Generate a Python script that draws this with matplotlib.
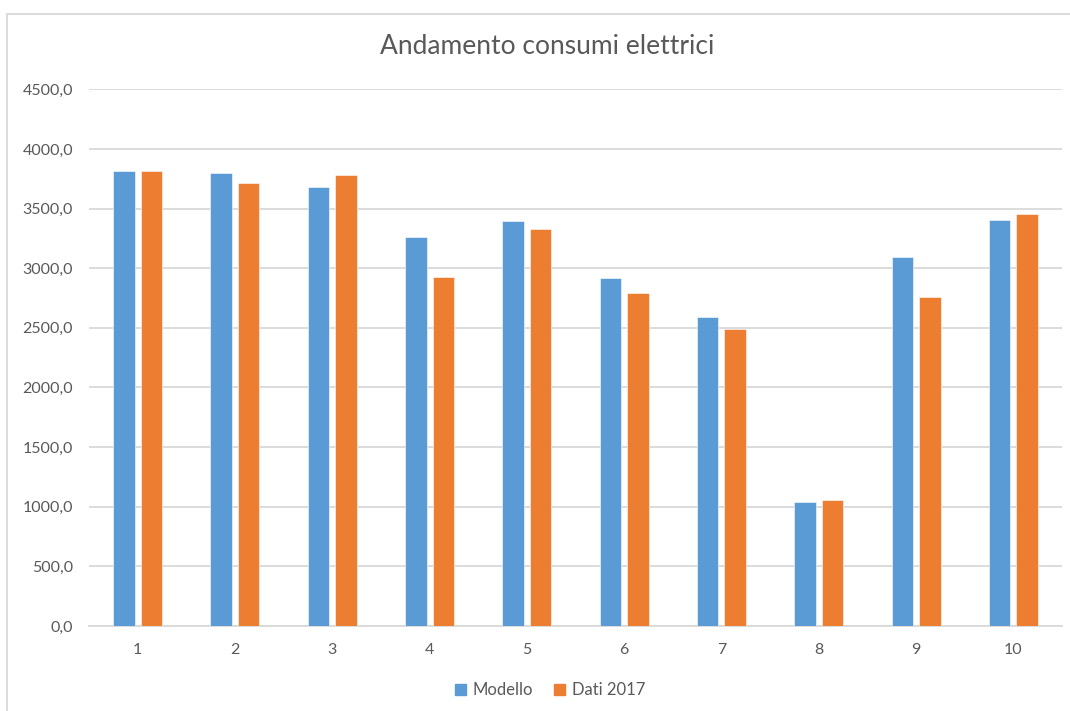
import matplotlib
matplotlib.use("Agg")
import matplotlib.pyplot as plt
import matplotlib.patches as mpatches
from matplotlib.ticker import FuncFormatter, MultipleLocator
import numpy as np

plt.rcParams['font.family'] = ['Lato', 'DejaVu Sans']

mesi = ['1', '2', '3', '4', '5', '6', '7', '8', '9', '10']
modello = [3818, 3801, 3678, 3262, 3393, 2916, 2587, 1039, 3095, 3408]
dati_2017 = [3818, 3717, 3779, 2925, 3326, 2790, 2489, 1056, 2760, 3458]

BLU = '#5B9BD5'
ARANCIO = '#ED7D31'
GRIGIO = '#D9D9D9'
TESTO = '#595959'

fig = plt.figure(figsize=(10.70, 7.11), dpi=100)
ax = fig.add_axes([0.0832, 0.1195, 0.9093, 0.7549])

x = np.arange(len(mesi))
w = 0.221
off = 0.1415
ax.bar(x - off, modello, w, color=BLU, edgecolor='white', linewidth=0.4, zorder=3)
ax.bar(x + off, dati_2017, w, color=ARANCIO, edgecolor='white', linewidth=0.4, zorder=3)

ax.set_xlim(-0.5, len(mesi) - 0.5)
ax.set_ylim(0, 4500)
ax.yaxis.set_major_locator(MultipleLocator(500))
ax.yaxis.set_major_formatter(FuncFormatter(lambda v, p: f"{v:.1f}".replace('.', ',')))
ax.set_xticks(x)
ax.set_xticklabels(mesi)

ax.grid(axis='y', color=GRIGIO, linewidth=1.3, zorder=0)
for s in ['top', 'right', 'left']:
    ax.spines[s].set_visible(False)
ax.spines['bottom'].set_color(GRIGIO)
ax.spines['bottom'].set_linewidth(1.3)
ax.tick_params(axis='both', length=0, labelsize=11.5, labelcolor=TESTO)
ax.tick_params(axis='y', pad=11.5)
ax.tick_params(axis='x', pad=12)

fig.text(0.511, 0.935, 'Andamento consumi elettrici', ha='center', va='center',
         fontsize=19, color=TESTO)

handles = [mpatches.Patch(color=BLU, label='Modello'),
           mpatches.Patch(color=ARANCIO, label='Dati 2017')]
fig.legend(handles=handles, loc='center', bbox_to_anchor=(0.514, 0.029), ncol=2,
           frameon=False, fontsize=12, labelcolor=TESTO, handlelength=0.65,
           handleheight=0.65, handletextpad=0.4, columnspacing=1.3)

# chart frame, running off the right and bottom edges
fig.patches.append(mpatches.Rectangle((7 / 1070, -0.05), 1.1, 1 - 14 / 711 + 0.05,
                                      transform=fig.transFigure, fill=False,
                                      edgecolor=GRIGIO, linewidth=1.3))

fig.savefig('out.png', dpi=100)
